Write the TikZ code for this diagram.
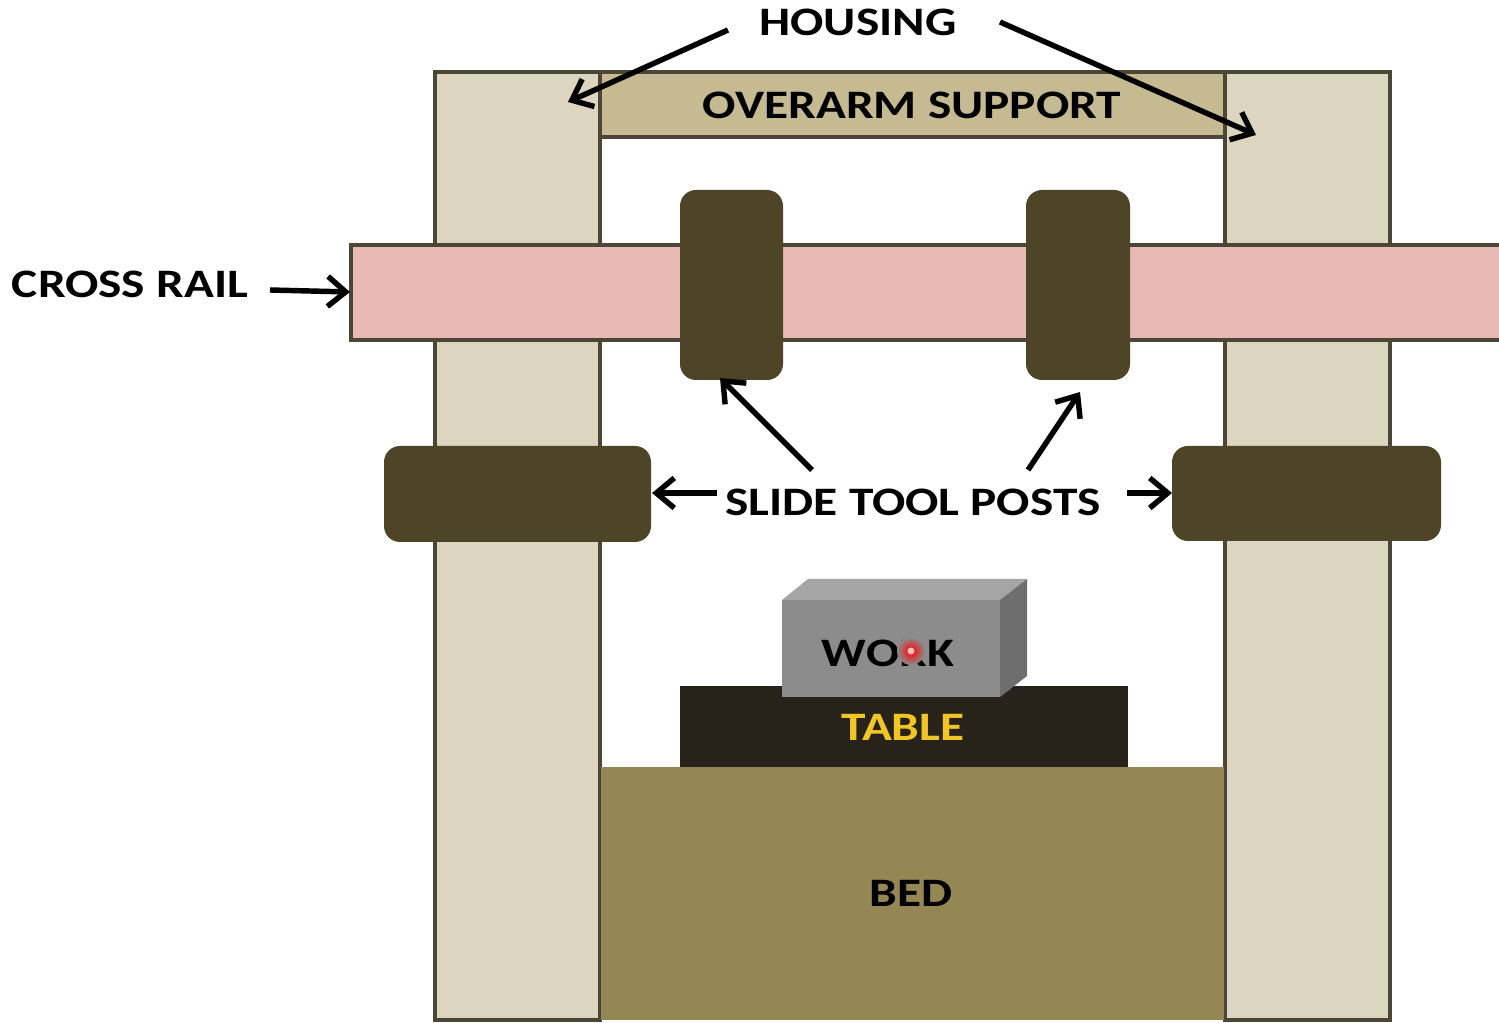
\documentclass[tikz,border=0pt]{standalone}
\usepackage{fontspec}
\usepackage{graphicx}
\setmainfont{Carlito}
\usetikzlibrary{arrows.meta}
\definecolor{housingfill}{HTML}{DCD5BF}
\definecolor{edgecol}{HTML}{4B4636}
\definecolor{overarmfill}{HTML}{C5BA92}
\definecolor{railfill}{HTML}{E8B9B5}
\definecolor{postfill}{HTML}{4E4529}
\definecolor{tablefill}{HTML}{28231A}
\definecolor{tabletext}{HTML}{F2C526}
\definecolor{bedfill}{HTML}{958754}
\definecolor{workfront}{HTML}{8C8C8C}
\definecolor{worktop}{HTML}{A5A5A5}
\definecolor{workside}{HTML}{6E6E6E}
% labels are set slightly wide
\newcommand\widelabel[1]{\scalebox{1.22}[1]{#1}}
\tikzset{
  part/.style={draw=edgecol, line width=1.8pt},
  postbox/.style={fill=postfill, rounded corners=0.32cm},
  lbl/.style={font=\bfseries\fontsize{23pt}{26pt}\selectfont, text=black, inner sep=0pt},
  callout/.style={line width=3.1pt, -{Straight Barb[length=0.36cm,width=0.6cm,line width=3.1pt]}},
}
\begin{document}
\begin{tikzpicture}[x=0.02cm,y=-0.02cm]
\useasboundingbox (0,0) rectangle (1499,1023);
\fill[white] (0,0) rectangle (1499,1023);

% housing columns
\draw[part, fill=housingfill] (435,72) rectangle (600,1020);
\draw[part, fill=housingfill] (1225,72) rectangle (1390,1020);
\coordinate (hL) at (568,102);
\coordinate (hR) at (1256,135);

% overarm support
\draw[part, fill=overarmfill] (600,72) rectangle (1225,137);
\node[lbl] (overarm) at (912,105) {\widelabel{OVERARM SUPPORT}};

% bed and table
\fill[bedfill] (601,767) rectangle (1224,1020);
\node[lbl] (bed) at (911,893) {\widelabel{BED}};
\fill[tablefill] (680,686) rectangle (1128,767);
\node[lbl, text=tabletext] (table) at (903,727) {\widelabel{TABLE}};

% work piece
\fill[worktop] (782,600) -- (808,579) -- (1027,579) -- (1000,600) -- cycle;
\fill[workside] (1000,600) -- (1027,579) -- (1027,676) -- (1000,697) -- cycle;
\fill[workfront] (782,600) rectangle (1000,697);
\node[lbl] (work) at (888,653) {\widelabel{WORK}};
\shade[inner color=red, outer color=workfront] (911,651) circle (14);
\fill[white!75!red] (911,651) circle (3.5);

% cross rail
\draw[part, fill=railfill] (1530,245) -- (351,245) -- (351,340) -- (1530,340);
\coordinate (rail) at (350,292);

% tool posts on the cross rail
\fill[postbox] (680,190) rectangle (783,380);
\fill[postbox] (1026,190) rectangle (1130,380);
\coordinate (pL) at (720,378);
\coordinate (pR) at (1080,392);

% side tool posts on the housing
\fill[postbox] (384,446) rectangle (651,542);
\fill[postbox] (1172,446) rectangle (1441,541);
\coordinate (sL) at (652,493);
\coordinate (sR) at (1172,493);

% labels and callouts
\node[lbl] (housing) at (858,22) {\widelabel{HOUSING}};
\coordinate (hsA) at (728,30);
\coordinate (hsB) at (1000,22);
\draw[callout] (hsA) -- (hL);
\draw[callout] (hsB) -- (hR);

\node[lbl] (crossrail) at (130,284) {\widelabel{CROSS RAIL}};
\coordinate (crA) at (270,290);
\draw[callout] (crA) -- (rail);

\node[lbl] (slide) at (913,502) {\widelabel{SLIDE TOOL POSTS}};
\coordinate (stA) at (812,470);
\coordinate (stB) at (1028,470);
\coordinate (stC) at (717,493);
\coordinate (stD) at (1127,493);
\draw[callout] (stA) -- (pL);
\draw[callout] (stB) -- (pR);
\draw[callout] (stC) -- (sL);
\draw[callout] (stD) -- (sR);
\end{tikzpicture}
\end{document}
